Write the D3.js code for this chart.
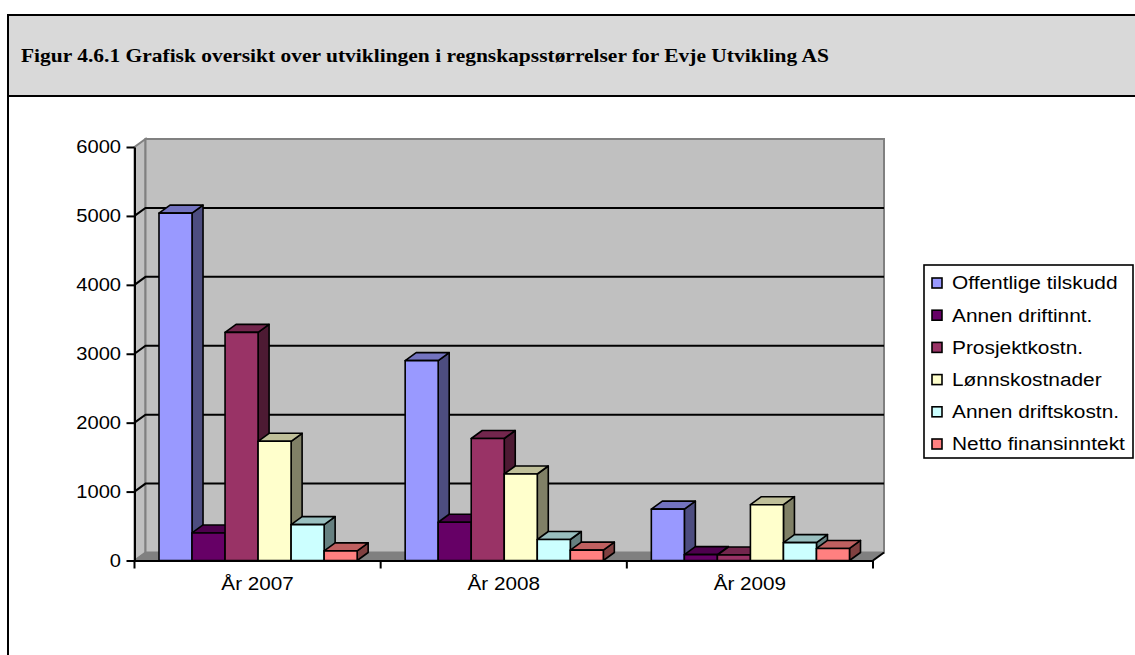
<!DOCTYPE html>
<html>
<head>
<meta charset="utf-8">
<script src="https://cdn.jsdelivr.net/npm/d3@7"></script>
<style>
  body { margin: 0; background: #fff; }
  svg { display: block; }
</style>
</head>
<body>
<svg id="chart"></svg>
<script>
// data
var years = ["År 2007", "År 2008", "År 2009"];
var seriesNames = ["Offentlige tilskudd", "Annen driftinnt.", "Prosjektkostn.", "Lønnskostnader", "Annen driftskostn.", "Netto finansinntekt"];
var offentligeTilskudd = [5040, 2900, 745];
var annenDriftinnt = [400, 555, 85];
var prosjektKostn = [3310, 1770, 80];
var lonnsKostnader = [1730, 1255, 810];
var annenDriftskostn = [520, 305, 260];
var nettoFinans = [140, 150, 175];
var seriesColors = ["#9999FF", "#660066", "#993366", "#FFFFCC", "#CCFFFF", "#FF8080"];
var yTickValues = [0, 1000, 2000, 3000, 4000, 5000, 6000];

var seriesValues = [offentligeTilskudd, annenDriftinnt, prosjektKostn, lonnsKostnader, annenDriftskostn, nettoFinans];

var width = 1135, height = 655;
var stretch = 1.12; // text in the figure is a bit wider than normal
var fontSans = "'Liberation Sans', Arial, sans-serif";

var frontLeft = 134.5, frontRight = 873,
  zeroY = 560.5, topY = 147;
var depthX = 11, depthY = -8;

var svg = d3.select("#chart").attr("width", width).attr("height", height);

// frame + title band
svg.append("rect")
  .attr("x", 8).attr("y", 15)
  .attr("width", width + 20).attr("height", height + 20)
  .attr("fill", "#fff").attr("stroke", "#000").attr("stroke-width", 2);
svg.append("rect")
  .attr("x", 8).attr("y", 15)
  .attr("width", width + 20).attr("height", 81)
  .attr("fill", "#d9d9d9").attr("stroke", "#000").attr("stroke-width", 2);

svg.append("text")
  .attr("transform", "translate(21,62) scale(1.13,1)")
  .attr("font-family", "'Liberation Serif', 'Times New Roman', serif")
  .attr("font-weight", "bold")
  .attr("font-size", "19px")
  .text("Figur 4.6.1 Grafisk oversikt over utviklingen i regnskapsstørrelser for Evje Utvikling AS");

var yScale = d3.scaleLinear().domain([0, 6000]).range([zeroY, topY]);
var xBand = d3.scaleBand().domain(years).range([frontLeft, frontRight]);
var xSeries = d3.scaleBand().domain(seriesNames).range([24.5, xBand.bandwidth() - 23.5]);

var plot = svg.append("g");

// left side wall
plot.append("polygon")
  .attr("points", [
    [frontLeft, zeroY], [frontLeft, topY],
    [frontLeft + depthX, topY + depthY], [frontLeft + depthX, zeroY + depthY]
  ].join(" "))
  .attr("fill", "#c0c0c0").attr("stroke", "#808080").attr("stroke-width", 2);

// back wall
plot.append("rect")
  .attr("x", frontLeft + depthX).attr("y", topY + depthY)
  .attr("width", frontRight - frontLeft).attr("height", zeroY - topY)
  .attr("fill", "#c0c0c0").attr("stroke", "#808080").attr("stroke-width", 2);

// gridlines
var grid = yTickValues.filter(function (d) { return d > 0 && d < 6000; });
plot.selectAll(".grid")
  .data(grid)
  .enter()
  .append("polyline")
  .attr("class", "grid")
  .attr("points", function (d) {
    var y = yScale(d);
    return [[frontLeft, y], [frontLeft + depthX, y + depthY], [frontRight + depthX, y + depthY]].join(" ");
  })
  .attr("fill", "none").attr("stroke", "#000").attr("stroke-width", 2);

// floor
plot.append("polygon")
  .attr("points", [
    [frontLeft, zeroY], [frontRight, zeroY],
    [frontRight + depthX, zeroY + depthY], [frontLeft + depthX, zeroY + depthY]
  ].join(" "))
  .attr("fill", "#808080").attr("stroke", "#808080").attr("stroke-width", 1);
plot.append("line")
  .attr("x1", frontRight).attr("y1", zeroY)
  .attr("x2", frontRight + depthX).attr("y2", zeroY + depthY)
  .attr("stroke", "#000").attr("stroke-width", 2);

function shade(c, k) {
  var r = d3.rgb(c);
  return d3.rgb(r.r * k, r.g * k, r.b * k).formatHex();
}

// bars, drawn left to right so each front face covers the previous side
years.forEach(function (year, yi) {
  seriesNames.forEach(function (name, si) {
    var v = seriesValues[si][yi];
    var bx = xBand(year) + xSeries(name),
      bw = xSeries.bandwidth(),
      by = yScale(v),
      b0 = yScale(0);
    var bar = plot.append("g").attr("class", "bar")
      .attr("stroke", "#000").attr("stroke-width", 1.6).attr("stroke-linejoin", "round");
    bar.append("polygon")
      .attr("points", [[bx + bw, by], [bx + bw + depthX, by + depthY], [bx + bw + depthX, b0 + depthY], [bx + bw, b0]].join(" "))
      .attr("fill", shade(seriesColors[si], 0.5));
    bar.append("polygon")
      .attr("points", [[bx, by], [bx + depthX, by + depthY], [bx + bw + depthX, by + depthY], [bx + bw, by]].join(" "))
      .attr("fill", shade(seriesColors[si], 0.75));
    bar.append("rect")
      .attr("x", bx).attr("y", by)
      .attr("width", bw).attr("height", b0 - by)
      .attr("fill", seriesColors[si]);
  });
});

// y axis
var yAxisG = svg.append("g")
  .attr("transform", "translate(" + frontLeft + ",0)")
  .call(d3.axisLeft(yScale).tickValues(yTickValues).tickFormat(d3.format("d"))
    .tickSize(8).tickSizeOuter(0).tickPadding(4));
yAxisG.select(".domain").attr("stroke-width", 2);
yAxisG.selectAll(".tick line").attr("stroke-width", 2);
yAxisG.selectAll(".tick text")
  .attr("font-family", fontSans).attr("font-size", "18px").attr("fill", "#000")
  .attr("transform", "scale(" + stretch + ",1)");

// x axis
var xAxisG = svg.append("g")
  .attr("transform", "translate(0," + zeroY + ")")
  .call(d3.axisBottom(xBand).tickSize(0).tickSizeOuter(0).tickPadding(17));
xAxisG.select(".domain").attr("stroke-width", 2);
xAxisG.selectAll(".tick text")
  .attr("font-family", fontSans).attr("font-size", "18px").attr("fill", "#000")
  .attr("transform", "scale(" + (stretch + 0.03) + ",1)");
var bounds = years.map(function (d) { return xBand(d); }).concat([frontRight]);
xAxisG.selectAll(".sep")
  .data(bounds)
  .enter()
  .append("line")
  .attr("class", "sep")
  .attr("x1", function (d) { return d; }).attr("x2", function (d) { return d; })
  .attr("y1", 0).attr("y2", 8)
  .attr("stroke", "#000").attr("stroke-width", 2);

// legend
var legend = svg.append("g").attr("transform", "translate(924,265)");
legend.append("rect")
  .attr("width", 209).attr("height", 193)
  .attr("fill", "#fff").attr("stroke", "#000").attr("stroke-width", 1.6);
var item = legend.selectAll(".item")
  .data(seriesNames)
  .enter()
  .append("g")
  .attr("class", "item")
  .attr("transform", function (d, i) { return "translate(8," + (18 + i * 32.2) + ")"; });
item.append("rect")
  .attr("x", 0).attr("y", -5).attr("width", 10).attr("height", 10)
  .attr("fill", function (d, i) { return seriesColors[i]; })
  .attr("stroke", "#000").attr("stroke-width", 1.6);
item.append("text")
  .attr("transform", "translate(20,0) scale(1.16,1)")
  .attr("dy", "0.35em")
  .attr("font-family", fontSans).attr("font-size", "18px")
  .text(function (d) { return d; });
</script>
</body>
</html>
